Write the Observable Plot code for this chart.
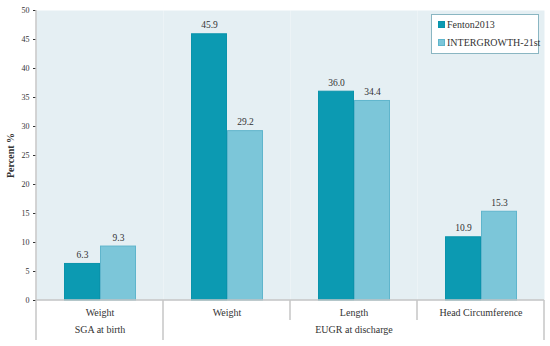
<!DOCTYPE html>
<html>
<head>
<meta charset="utf-8">
<script src="https://cdn.jsdelivr.net/npm/d3@7"></script>
<script src="https://cdn.jsdelivr.net/npm/@observablehq/plot@0.6"></script>
<style>
  body { margin: 0; background: #fff; }
  #wrap { position: relative; width: 550px; height: 346px; font-family: "Liberation Serif", "DejaVu Serif", serif; }
  #wrap svg, #wrap svg text { font-family: "Liberation Serif", "DejaVu Serif", serif !important; }
  #legend { position: absolute; left: 431px; top: 14px; width: 108px; height: 40px; background: #fff;
            border: 1px solid #8ab6c2; box-sizing: border-box; font-size: 10px; color: #333;
            font-family: "Liberation Serif", "DejaVu Serif", serif; }
  #legend .item { position: absolute; left: 6px; display: flex; align-items: center; white-space: nowrap; }
  #legend .sw { width: 7px; height: 7px; margin-right: 2px; box-sizing: border-box; }
</style>
</head>
<body>
<div id="wrap"></div>
<script>
// ---- data ----
const subcategories = ["Weight", "Weight", "Length", "Head Circumference"];
const groups = ["SGA at birth", "EUGR at discharge", "EUGR at discharge", "EUGR at discharge"];
const series = ["Fenton2013", "INTERGROWTH-21st"];
const fenton = [6.3, 45.9, 36.0, 10.9];
const intergrowth = [9.3, 29.2, 34.4, 15.3];
const groupLabels = ["SGA at birth", "EUGR at discharge"];
const yTicks = [0, 5, 10, 15, 20, 25, 30, 35, 40, 45, 50];

const colors = ["#0c9ab2", "#7cc6d9"];
const strokes = ["#0a93ab", "#5fb5cc"];

const keys = subcategories.map((s, i) => i + "|" + s);
const data = [];
keys.forEach((k, i) => {
  data.push({key: k, series: series[0], value: fenton[i]});
  data.push({key: k, series: series[1], value: intergrowth[i]});
});
const groupData = groupLabels.map(g => {
  const idx = groups.map((x, i) => x === g ? i : -1).filter(i => i >= 0);
  return {label: g, key: keys[idx[Math.floor(idx.length / 2)]]};
});

const chart = Plot.plot({
  width: 550,
  height: 346,
  marginLeft: 35,
  marginRight: 5,
  marginTop: 10,
  marginBottom: 46,
  style: {fontFamily: "'Liberation Serif', 'DejaVu Serif', serif", fontSize: "10px", color: "#333", background: "transparent"},
  fx: {domain: keys, padding: 0, axis: "bottom", tickFormat: k => k.split("|")[1], label: null, tickSize: 0, tickPadding: 8},
  x: {domain: series, paddingInner: 0, paddingOuter: 0.746, axis: null},
  y: {domain: [0, 50], ticks: yTicks, tickSize: 3, tickPadding: 4, label: "Percent %", labelAnchor: "center", labelArrow: "none", labelOffset: 30},
  color: {domain: series, range: colors},
  marks: [
    Plot.frame({fill: "#e5eff3", stroke: null}),
    Plot.barY(data, {fx: "key", x: "series", y: "value", fill: "series",
      stroke: d => strokes[series.indexOf(d.series)], strokeWidth: 1, insetLeft: 0.5, insetRight: 0.5}),
    Plot.text(data, {fx: "key", x: "series", y: "value", text: d => d.value.toFixed(1), dy: -9, fontSize: 9.5, fill: "#333"}),
    Plot.text(groupData, {fx: "key", frameAnchor: "bottom", text: "label", dy: 32, fontSize: 10, fill: "#333"})
  ]
});

document.getElementById("wrap").appendChild(chart);

const svg = d3.select(chart.tagName.toLowerCase() === "svg" ? chart : chart.querySelector("svg"));
const fx = chart.scale("fx");
const ys = chart.scale("y");
const y0 = ys.apply(0), yTop = ys.apply(50);
const bw = fx.bandwidth;
const g = svg.append("g").attr("stroke", "#c6c6c6").attr("stroke-width", 1.5);
const left = fx.apply(keys[0]);
const right = fx.apply(keys[keys.length - 1]) + bw;
g.append("line").attr("x1", left).attr("x2", left).attr("y1", yTop).attr("y2", 340);
g.append("line").attr("x1", left).attr("x2", right).attr("y1", y0).attr("y2", y0);
keys.forEach((k, i) => {
  if (i === 0) return;
  const x = fx.apply(k);
  const full = groups[i] !== groups[i - 1];
  g.append("line").attr("x1", x).attr("x2", x).attr("y1", y0).attr("y2", full ? 340 : 320);
});
g.append("line").attr("x1", right).attr("x2", right).attr("y1", y0).attr("y2", 340);

svg.selectAll("text").each(function() {
  const t = this.textContent;
  if (t.includes("Percent")) d3.select(this).attr("font-weight", "bold").attr("font-size", 10);
});
svg.selectAll("g[aria-label='y-axis tick label']").attr("font-size", 8);

const legend = document.createElement("div");
legend.id = "legend";
series.forEach((s, i) => {
  const it = document.createElement("div");
  it.className = "item";
  it.style.top = (i === 0 ? 4 : 22) + "px";
  it.innerHTML = `<span class="sw" style="background:${colors[i]};border:1px solid ${strokes[i]}"></span><span>${s}</span>`;
  legend.appendChild(it);
});
document.getElementById("wrap").appendChild(legend);
</script>
</body>
</html>
